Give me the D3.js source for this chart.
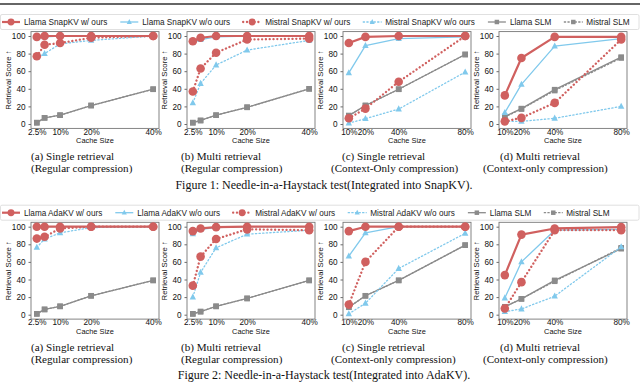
<!DOCTYPE html>
<html>
<head>
<meta charset="utf-8" />
<style>
    body { margin: 0; background: #fff; }
    svg { display: block; }
</style>
<script src="https://d3js.org/d3.v7.min.js"></script>
</head>
<body>
<svg id="main-graph"></svg>
<script>

// x values and tick labels
const regularX = [2.5, 5, 10, 20, 40];
const regularTicks = [2.5, 10, 20, 40];
const contextX = [10, 20, 40, 80];
const contextTicks = [10, 20, 40, 80];
const yTicks = [0, 20, 40, 60, 80, 100];

// series order inside every panel array
const seriesKeys = ["llamaOurs", "llamaBase", "mistralOurs", "mistralBase", "llamaSLM", "mistralSLM"];

// Figure 1 (SnapKV)
const snapA = [
    [99, 100, 100, 100, 100],
    [98, 99, 100, 100, 100],
    [77, 90, 92, 98, 100],
    [76, 80, 91, 95, 100],
    [1.5, 7, 10, 21, 39.5],
    [1.5, 7, 10, 21, 39.5]
];
const snapB = [
    [94, 98, 100, 100, 100],
    [93, 96, 99, 100, 100],
    [37, 63, 81, 96, 97],
    [24, 46, 67, 84, 95],
    [1.5, 4, 10, 19, 40],
    [1.5, 4, 10, 19, 40]
];
const snapC = [
    [92, 99, 100, 100],
    [58, 89, 97, 99],
    [6.5, 17.5, 48, 100],
    [1, 6, 17, 59],
    [9.5, 21, 39.5, 79],
    [9.5, 21, 39.5, 79]
];
const snapD = [
    [32.5, 75, 99, 99],
    [13, 45, 88.5, 97],
    [3, 7, 24, 96],
    [3, 3, 6.5, 20],
    [8.5, 17.5, 39, 76],
    [8, 17, 38, 75]
];

// Figure 2 (AdaKV)
const adaA = [
    [100, 100, 100, 100, 100],
    [99, 100, 100, 100, 100],
    [86.5, 88.5, 98, 100, 100],
    [76.5, 86, 93, 99, 100],
    [1, 6, 9.5, 21.5, 39],
    [1, 6, 9.5, 21.5, 39]
];
const adaB = [
    [95, 98, 99.5, 100, 100],
    [92, 97, 99, 100, 100],
    [33, 66, 86, 97, 96],
    [20, 48, 76, 91.5, 96],
    [1, 3.5, 9.5, 18.5, 39],
    [1, 3.5, 9.5, 18.5, 39]
];
const adaC = [
    [95, 100, 100, 100],
    [66.5, 93, 100, 100],
    [11.5, 60, 100, 100],
    [1, 13, 52.5, 92.5],
    [8.5, 21.5, 39, 79],
    [8.5, 21.5, 39, 79]
];
const adaD = [
    [45, 91, 98, 99.5],
    [19, 60, 96, 97],
    [7, 37, 96, 96],
    [3.5, 6.5, 21, 77],
    [9, 18, 39, 75],
    [9, 18, 38, 76]
];

const captionsTop = ["(a) Single retrieval", "(b) Multi retrieval", "(c) Single retrieval", "(d) Multi retrieval"];
const captionsBottom1 = ["(Regular compression)", "(Regular compression)", "(Context-Only compression)", "(Context-only compression)"];
const captionsBottom2 = ["(Regular compression)", "(Regular compression)", "(Context-only compression)", "(Context-only compression)"];

const figures = [
    { method: "SnapKV", panels: [snapA, snapB, snapC, snapD], sub: captionsBottom1,
      title: "Figure 1: Needle-in-a-Haystack test(Integrated into SnapKV)." },
    { method: "AdaKV", panels: [adaA, adaB, adaC, adaD], sub: captionsBottom2,
      title: "Figure 2: Needle-in-a-Haystack test(Integrated into AdaKV)." }
];

/* styles */

const RED = "#d0605f", BLUE = "#80c9ec", GRAY = "#8b8b8b";
const styles = {
    llamaOurs:   { color: RED,  width: 2.2, dash: null,      marker: "circle",   size: 4.3 },
    llamaBase:   { color: BLUE, width: 1.3, dash: null,      marker: "triangle", size: 3.2 },
    mistralOurs: { color: RED,  width: 2.3, dash: "0.1 3.7", marker: "circle",   size: 4.3 },
    mistralBase: { color: BLUE, width: 1.3, dash: "1.3 2.3", marker: "triangle", size: 3.2 },
    llamaSLM:    { color: GRAY, width: 1.3, dash: null,      marker: "square",   size: 2.8 },
    mistralSLM:  { color: GRAY, width: 1.3, dash: "1.3 2.3", marker: "square",   size: 2.8 }
};
const drawOrder = [4, 5, 1, 3, 0, 2];

const sansFont = "'Liberation Sans', Arial, sans-serif";
const serifFont = "'Liberation Serif', 'Times New Roman', serif";

let W = 640, H = 389;
let svg = d3.select("#main-graph").attr("width", W).attr("height", H);

// page header rule
svg.append("line")
    .attr("x1", 0).attr("x2", W).attr("y1", 4).attr("y2", 4)
    .style("stroke", "#333").style("stroke-width", 1.3);

function drawMarker(g, type, x, y, s, color) {
    if (type === "circle") {
        g.append("circle").attr("cx", x).attr("cy", y).attr("r", s).style("fill", color);
    } else if (type === "triangle") {
        g.append("path")
            .attr("d", `M${x},${y - s * 1.15}L${x + s},${y + s * 0.75}L${x - s},${y + s * 0.75}Z`)
            .style("fill", color);
    } else {
        g.append("rect").attr("x", x - s).attr("y", y - s).attr("width", 2 * s).attr("height", 2 * s)
            .style("fill", color);
    }
}

function drawLegend(g, method, cy) {
    let labels = [
        "Llama " + method + " w/ ours", "Llama " + method + " w/o ours",
        "Mistral " + method + " w/ ours", "Mistral " + method + " w/o ours",
        "Llama SLM", "Mistral SLM"
    ];
    g.append("rect")
        .attr("x", 0.5).attr("y", cy - 7.5).attr("width", W - 1.5).attr("height", 15)
        .attr("rx", 1.5)
        .style("fill", "#fff").style("stroke", "#d8d8d8").style("stroke-width", 0.8);
    let cursor = 2;
    seriesKeys.forEach((k, i) => {
        let st = styles[k];
        g.append("line")
            .attr("x1", cursor).attr("x2", cursor + 18).attr("y1", cy).attr("y2", cy)
            .style("stroke", st.color).style("stroke-width", st.width)
            .style("stroke-dasharray", st.dash).style("stroke-linecap", st.dash ? "round" : "butt");
        drawMarker(g, st.marker, cursor + 9, cy, st.size * 0.8, st.color);
        let t = g.append("text")
            .attr("x", cursor + 22).attr("y", cy).attr("dy", "0.35em")
            .style("font-family", sansFont).style("font-size", "8.2px").style("fill", "#222")
            .text(labels[i]);
        cursor += 22 + t.node().getComputedTextLength() + 13;
    });
}

function drawPanel(g, data, idx, top) {
    let isRegular = idx < 2;
    let xs = isRegular ? regularX : contextX;
    let ticks = isRegular ? regularTicks : contextTicks;
    let left = 31 + 156 * idx, w = 128, h = 96.8;
    let pad = (xs[xs.length - 1] - xs[0]) * 0.05;
    let x = d3.scaleLinear().domain([xs[0] - pad, xs[xs.length - 1] + pad]).range([left, left + w]);
    let y = d3.scaleLinear().domain([-5, 105]).range([top + h, top]);

    let yAxis = g.append("g").attr("transform", `translate(${left},0)`)
        .call(d3.axisLeft(y).tickValues(yTicks).tickSize(2.5).tickPadding(3));
    let xAxis = g.append("g").attr("transform", `translate(0,${top + h})`)
        .call(d3.axisBottom(x).tickValues(ticks).tickFormat(d => d + "%").tickSize(0).tickPadding(0.5));
    [yAxis, xAxis].forEach(a => {
        a.select(".domain").remove();
        a.selectAll("line").style("stroke", "#444").style("stroke-width", 0.8);
        a.selectAll("text").style("font-family", sansFont).style("font-size", "8.2px").style("fill", "#111");
    });

    g.append("rect").attr("x", left).attr("y", top).attr("width", w).attr("height", h)
        .style("fill", "none").style("stroke", "#777").style("stroke-width", 0.9);

    g.append("text")
        .attr("transform", `translate(${left - 23},${top + h / 2}) rotate(-90)`)
        .attr("text-anchor", "middle").attr("dy", "0.35em")
        .style("font-family", sansFont).style("font-size", "7.8px").style("fill", "#111")
        .text("Retrieval Score \u2191");
    g.append("text")
        .attr("x", left + w / 2).attr("y", top + h + 14.6)
        .attr("text-anchor", "middle")
        .style("font-family", sansFont).style("font-size", "7.4px").style("fill", "#111")
        .text("Cache Size");

    let line = d3.line().x(d => x(d[0])).y(d => y(d[1]));
    drawOrder.forEach(si => {
        let st = styles[seriesKeys[si]];
        let pts = xs.map((xv, j) => [xv, data[si][j]]);
        let sg = g.append("g");
        sg.append("path").attr("d", line(pts))
            .style("fill", "none").style("stroke", st.color).style("stroke-width", st.width)
            .style("stroke-dasharray", st.dash)
            .style("stroke-linecap", st.dash ? "round" : "butt")
            .style("stroke-linejoin", "round");
        pts.forEach(p => drawMarker(sg, st.marker, x(p[0]), y(p[1]), st.size, st.color));
    });
}

const captionX1 = [31, 181, 342, 500];
const captionX2 = [31, 181, 331, 483];

figures.forEach((fig, fi) => {
    let dy = fi * 190.7;
    let g = svg.append("g");
    drawLegend(g, fig.method, 22 + dy);
    fig.panels.forEach((p, i) => drawPanel(g, p, i, 31.6 + dy));
    fig.panels.forEach((p, i) => {
        g.append("text").attr("x", captionX1[i]).attr("y", 156.5 + dy).attr("dy", "0.35em")
            .style("font-family", serifFont).style("font-size", "11.1px").style("fill", "#111")
            .text(captionsTop[i]);
        g.append("text").attr("x", captionX2[i]).attr("y", 168.5 + dy).attr("dy", "0.35em")
            .style("font-family", serifFont).style("font-size", "11.1px").style("fill", "#111")
            .text(fig.sub[i]);
    });
    g.append("text").attr("x", 324).attr("y", 184.5 + dy).attr("dy", "0.35em")
        .attr("text-anchor", "middle")
        .style("font-family", serifFont).style("font-size", "12px").style("fill", "#111")
        .text(fig.title);
});

</script>
</body>
</html>
